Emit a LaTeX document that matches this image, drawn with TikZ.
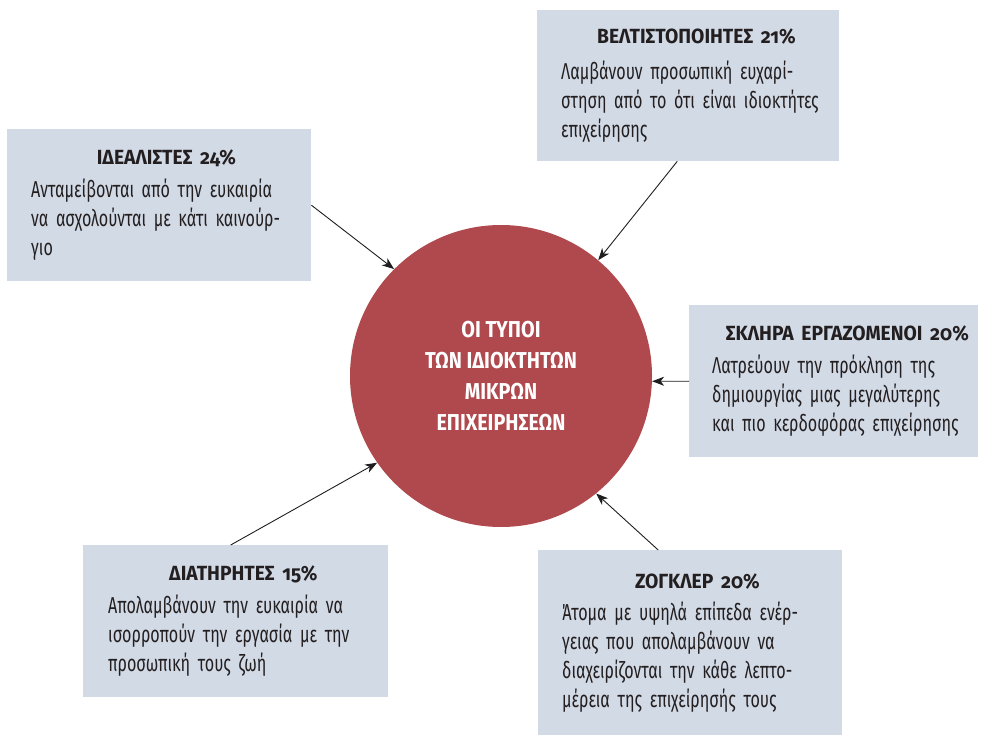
\documentclass[tikz,border=0pt]{standalone}
\usepackage{fontspec}
\setmainfont{Fira Sans}[FakeStretch=0.70, Numbers=OldStyle]
\newfontfamily\headfont{Fira Sans}[FakeStretch=0.94, Numbers=OldStyle]
\newfontfamily\hubfont{Fira Sans}[FakeStretch=0.86]
\usetikzlibrary{arrows.meta,calc}

\definecolor{boxblue}{RGB}{210,218,230}
\definecolor{circred}{RGB}{176,73,77}
\definecolor{inkline}{RGB}{30,30,30}
\definecolor{ink}{RGB}{35,31,32}

% text area of a box: left padding and line width
\newlength\padl \setlength\padl{24pt}
\newlength\tw   \setlength\tw{255pt}
\newcommand\ttl[1]{\hspace*{\padl}\makebox[\tw][c]{\headfont\fontsize{20.5}{29}\selectfont\bfseries #1}\par}
\newcommand\jl[1]{\hspace*{\padl}\makebox[\tw][s]{#1}\par}
\newcommand\lastln[1]{\hspace*{\padl}#1\par}

\tikzset{
  infobox/.style={fill=boxblue, draw=none, anchor=north west, inner sep=0pt,
    text width=#1, align=left, text=ink, font=\fontsize{23}{29}\selectfont},
  hub/.style={circle, fill=circred, draw=none, minimum size=302pt, inner sep=0pt,
    text=white, align=center, font=\hubfont\fontsize{23}{31}\selectfont\bfseries},
  arr/.style={draw=inkline, line width=0.9pt, -{Stealth[length=12pt,width=9pt,inset=3.5pt]}}
}

\begin{document}
\begin{tikzpicture}[x=1pt,y=-1pt]
\useasboundingbox (0,0) rectangle (983,735);

\node[hub] (circ) at (501,376)
  {ΟΙ ΤΥΠΟΙ\\ΤΩΝ ΙΔΙΟΚΤΗΤΩΝ\\ΜΙΚΡΩΝ\\ΕΠΙΧΕΙΡΗΣΕΩΝ};

\node[infobox=304pt, minimum height=152pt] (ideal) at (7,129) {\parindent=0pt
  \vspace*{4pt}
  \ttl{ΙΔΕΑΛΙΣΤΕΣ 24\%}
  \jl{Ανταμείβονται από την ευκαιρία}
  \jl{να ασχολούνται με κάτι καινούρ-}
  \lastln{γιο}};

\node[infobox=302pt, minimum height=151pt] (opt) at (537,10) {\parindent=0pt
  \vspace*{7pt}
  \ttl{ΒΕΛΤΙΣΤΟΠΟΙΗΤΕΣ 21\%}
  \jl{Λαμβάνουν προσωπική ευχαρί-}
  \jl{στηση από το ότι είναι ιδιοκτήτες}
  \lastln{επιχείρησης}};

\setlength\padl{23pt}
\node[infobox=289pt, minimum height=152pt] (hard) at (689,305) {\parindent=0pt
  \vspace*{4pt}
  \ttl{ΣΚΛΗΡΑ ΕΡΓΑΖΟΜΕΝΟΙ 20\%}
  \jl{Λατρεύουν την πρόκληση της}
  \jl{δημιουργίας μιας μεγαλύτερης}
  \lastln{και πιο κερδοφόρας επιχείρησης}};

\setlength\padl{25pt}
\node[infobox=305pt, minimum height=152pt] (keep) at (83,545) {\parindent=0pt
  \vspace*{4pt}
  \ttl{ΔΙΑΤΗΡΗΤΕΣ 15\%}
  \jl{Απολαμβάνουν την ευκαιρία να}
  \jl{ισορροπούν την εργασία με την}
  \lastln{προσωπική τους ζωή}};

\setlength\padl{24pt}
\node[infobox=304pt, minimum height=186pt] (zog) at (538,550) {\parindent=0pt
  \vspace*{3pt}
  \ttl{ΖΟΓΚΛΕΡ 20\%}
  \jl{Άτομα με υψηλά επίπεδα ενέρ-}
  \jl{γειας που απολαμβάνουν να}
  \jl{διαχειρίζονται την κάθε λεπτο-}
  \lastln{μέρεια της επιχείρησής τους}};

\draw[arr] (ideal.east) -- (circ.135);
\draw[arr] ($(opt.south)+(-11,0)$) -- (circ.50);
\draw[arr] (hard.west) -- (circ.-2);
\draw[arr] ($(zog.north)+(-32,0)$) -- (circ.-51);
\draw[arr] ($(keep.north)+(-5,0)$) -- (circ.215);
\end{tikzpicture}
\end{document}
